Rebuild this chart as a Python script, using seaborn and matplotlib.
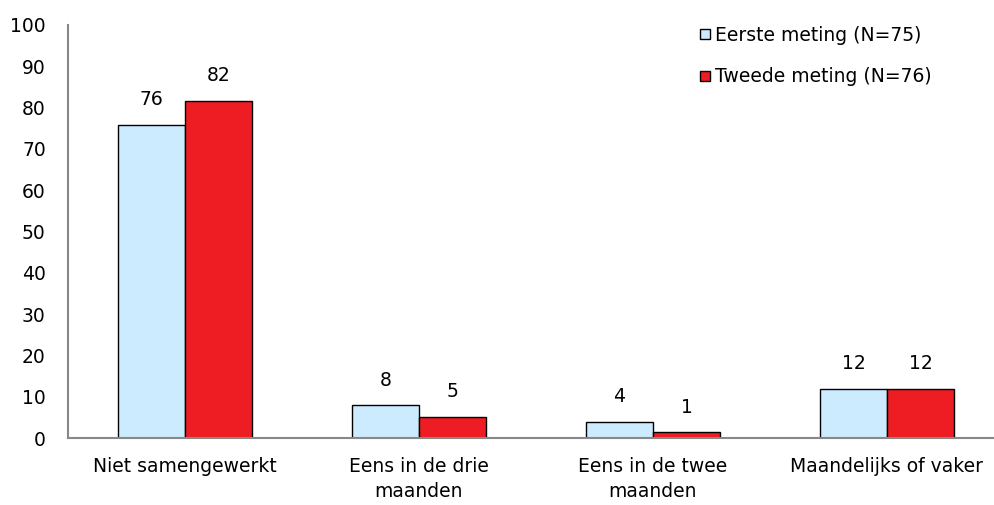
import pandas as pd
import matplotlib.pyplot as plt
import seaborn as sns
from matplotlib.lines import Line2D

categories = ['Niet samengewerkt', 'Eens in de drie\nmaanden', 'Eens in de twee\nmaanden', 'Maandelijks of vaker']
series = ['Eerste meting (N=75)', 'Tweede meting (N=76)']
eerste = [75.8, 7.9, 3.9, 11.9]
tweede = [81.6, 5.2, 1.35, 11.9]

df = pd.DataFrame({
    'categorie': categories * 2,
    'meting': [series[0]] * 4 + [series[1]] * 4,
    'waarde': eerste + tweede,
})

colors = ['#CCEBFF', '#EE1D23']

sns.set_style('white')
plt.rcParams['font.family'] = ['DejaVu Sans']
plt.rcParams['text.color'] = 'black'
plt.rcParams['xtick.color'] = 'black'
plt.rcParams['ytick.color'] = 'black'

fs = 13.5

fig = plt.figure(figsize=(9.95, 5.05), dpi=100)
# axes runs past the right edge, like the original
ax = fig.add_axes([68 / 995, 67 / 505, 936 / 995, 413 / 505])

sns.barplot(data=df, x='categorie', y='waarde', hue='meting', order=categories,
            hue_order=series, palette=colors, width=0.573, gap=0, saturation=1,
            edgecolor='black', linewidth=1, legend=False, ax=ax)

# data labels, rounded
for cont in ax.containers:
    for bar in cont:
        h = bar.get_height()
        ax.annotate(f'{h:.0f}', (bar.get_x() + bar.get_width() / 2, h),
                    xytext=(0, 18), textcoords='offset points',
                    ha='center', va='center', fontsize=fs)

ax.set_ylim(0, 100)
ax.set_yticks(range(0, 101, 10))
ax.set_xlim(-0.5, 3.5)
ax.set_xlabel('')
ax.set_ylabel('')
ax.tick_params(axis='both', length=0, labelsize=fs)
ax.tick_params(axis='y', pad=16)
ax.tick_params(axis='x', pad=14)
for lab in ax.get_xticklabels():
    lab.set_linespacing(1.35)
for s in ['top', 'right']:
    ax.spines[s].set_visible(False)
for s in ['left', 'bottom']:
    ax.spines[s].set_color('#888888')
    ax.spines[s].set_linewidth(1.5)

handles = [Line2D([], [], marker='s', linestyle='none', markersize=7.5,
                  markerfacecolor=c, markeredgecolor='black', markeredgewidth=1)
           for c in colors]
fig.legend(handles, series, loc='upper left', bbox_to_anchor=(698 / 995, 1 - 26 / 505),
           frameon=False, fontsize=fs, handlelength=0.75, handletextpad=0.15,
           labelspacing=1.2, borderpad=0, borderaxespad=0)

fig.savefig('out.png', dpi=100)
